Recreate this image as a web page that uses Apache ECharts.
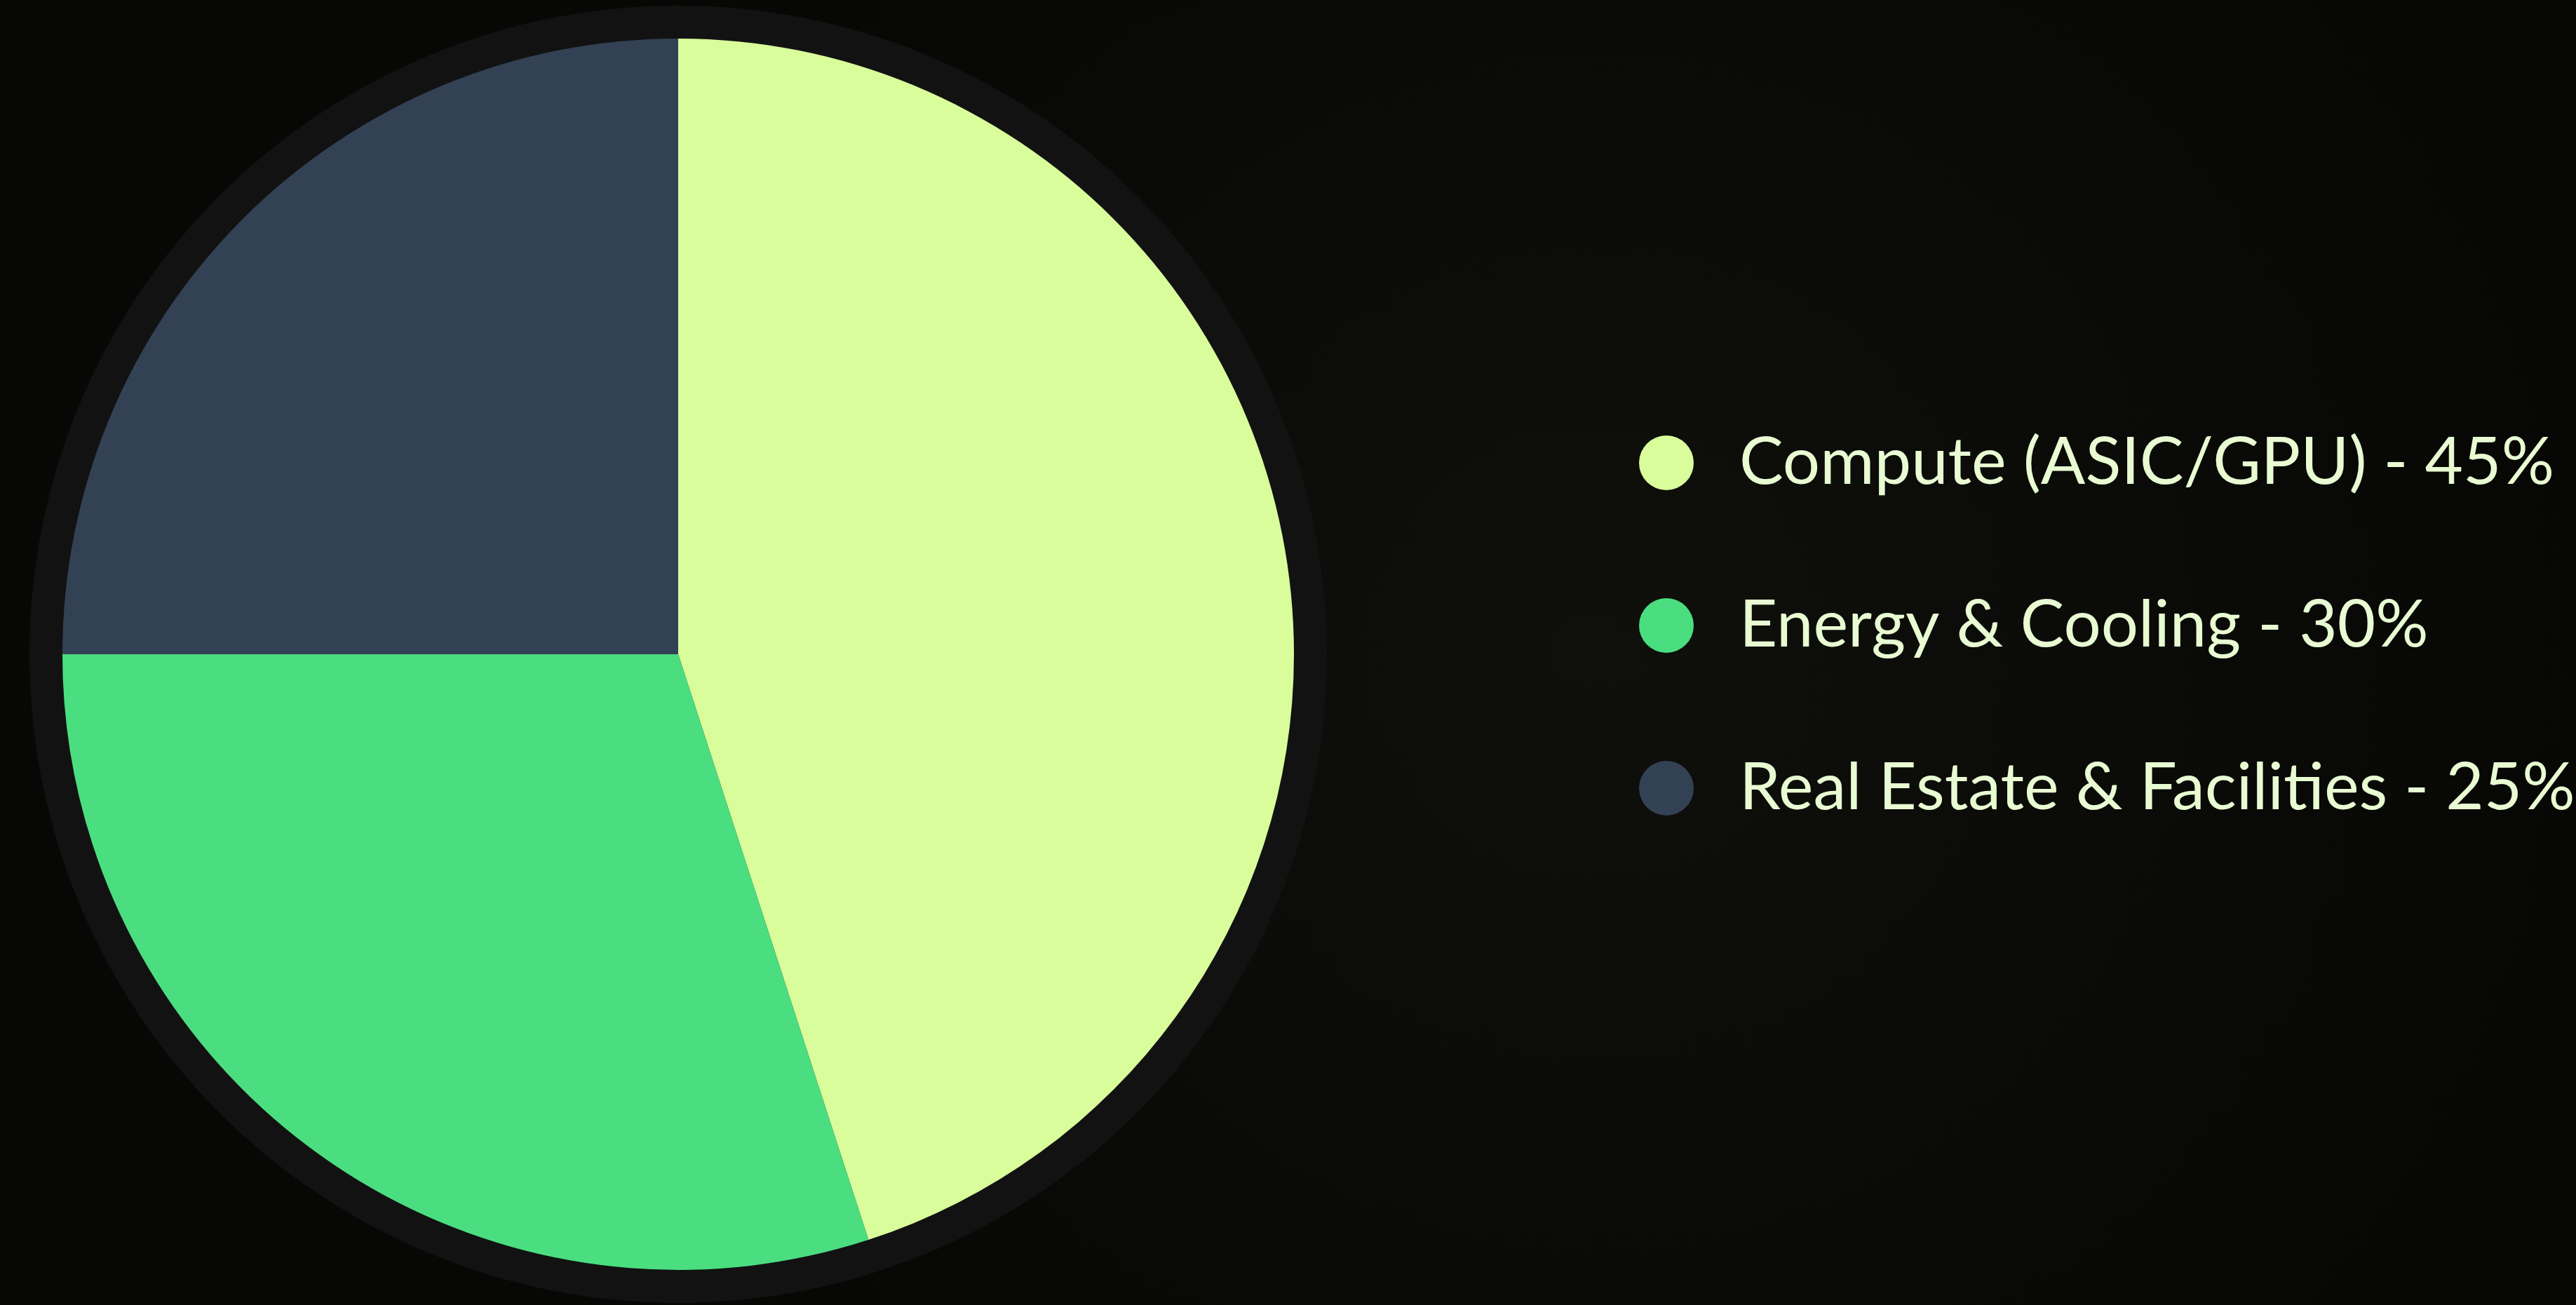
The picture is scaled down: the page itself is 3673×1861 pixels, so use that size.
<!DOCTYPE html>
<html>
<head>
<meta charset="utf-8">
<script src="https://cdn.jsdelivr.net/npm/echarts@6/dist/echarts.min.js"></script>
<style>
  html, body { margin: 0; padding: 0; background: #090906; }
  #chart { width: 3673px; height: 1861px; }
</style>
</head>
<body>
<div id="chart"></div>
<script>
const categories = ['Compute (ASIC/GPU)', 'Energy & Cooling', 'Real Estate & Facilities'];
const values = [45, 30, 25];
const colors = ['#d9fd9b', '#4ade80', '#334155'];

const chart = echarts.init(document.getElementById('chart'), null, { renderer: 'canvas' });

const option = {
  backgroundColor: {
    type: 'radial', x: 0.62, y: 0.5, r: 0.75,
    colorStops: [
      { offset: 0, color: '#0f0f0c' },
      { offset: 1, color: '#070705' }
    ]
  },
  legend: {
    orient: 'vertical',
    left: 2332,
    top: 607,
    icon: 'circle',
    itemWidth: 78,
    itemHeight: 78,
    itemGap: 136,
    data: categories,
    formatter: function (name) {
      const i = categories.indexOf(name);
      return name + ' - ' + values[i] + '%';
    },
    textStyle: {
      color: '#e8fbd2',
      fontFamily: 'Lato',
      fontSize: 94,
      lineHeight: 96,
      padding: [0, 0, 0, 60]
    }
  },
  series: [
    {
      type: 'pie',
      silent: true,
      center: [967, 933],
      radius: [0, 925],
      label: { show: false },
      labelLine: { show: false },
      itemStyle: { color: '#121212' },
      data: [{ value: 1, name: '__ring' }],
      legendHoverLink: false,
      z: 1
    },
    {
      type: 'pie',
      center: [967, 933],
      radius: [0, 878],
      startAngle: 90,
      clockwise: true,
      label: { show: false },
      labelLine: { show: false },
      emphasis: { scale: false },
      data: categories.map((c, i) => ({
        name: c,
        value: values[i],
        itemStyle: { color: colors[i] }
      })),
      z: 2
    }
  ]
};
chart.setOption(option);
</script>
</body>
</html>
